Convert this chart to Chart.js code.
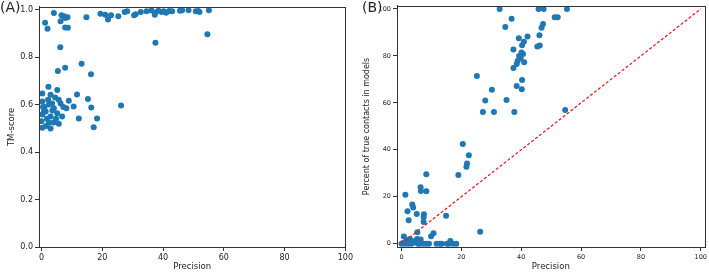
<!DOCTYPE html>
<html>
<head>
<meta charset="utf-8">
<script src="https://cdn.jsdelivr.net/npm/chart.js@4.4.1/dist/chart.umd.min.js"></script>
<style>
  html, body { margin: 0; padding: 0; background: #fff; }
  #wrap { position: relative; width: 709px; height: 275px; }
  .box { position: absolute; top: 0; height: 275px; }
  .lbl { position: absolute; top: -1px; font-family: "DejaVu Sans", sans-serif; font-size: 14px; color: #222; }
</style>
</head>
<body>
<div id="wrap">
  <div class="box" style="left:0;width:355px"><canvas id="chartA"></canvas></div>
  <div class="box" style="left:355px;width:354px"><canvas id="chartB"></canvas></div>
  <div class="lbl" style="left:0">(A)</div>
  <div class="lbl" style="left:362px">(B)</div>
</div>
<script>
// (A) precision vs TM-score
const precisionA = [1.2, 2.0, 4.1, 6.6, 7.4, 7.9, 8.6, 6.3, 7.8, 8.7, 14.8, 19.4, 21.0, 21.9, 22.9, 25.3, 27.4, 28.2, 30.5, 31.0,
  32.7, 34.6, 36.2, 37.3, 37.4, 38.5, 39.5, 40.2, 41.0, 42.0, 43.0, 45.6, 46.3, 48.4, 50.8, 51.6, 52.0, 55.1, 37.5, 54.6,
  6.2, 13.2, 5.4, 7.8, 16.3,
  2.3, 5.2, 0.3, 3.0, 11.7, 15.3, 5.7, 9.0, 26.2, 16.4, 10.6, 0.3, 2.5, 4.1, 1.4, 5.2, 0.3, 3.0, 12.3, 18.3,
  0.0, 2.5, 5.7, 17.2, 0.3, 3.0, 1.0, 4.5, 3.6, 6.3, 7.2, 1.8, 4.0, 0.8, 2.2, 1.5, 6.8, 3.5, 4.8, 0.5, 8.2];
const tmScore = [0.945, 0.92, 0.986, 0.976, 0.972, 0.965, 0.968, 0.951, 0.925, 0.924, 0.968, 0.983, 0.979, 0.958, 0.976, 0.972, 0.99, 0.993, 0.976, 0.981,
  0.99, 0.993, 0.996, 0.979, 0.988, 0.995, 0.99, 0.993, 0.987, 0.994, 0.993, 0.995, 0.997, 0.997, 0.993, 0.994, 0.99, 0.997, 0.861, 0.896,
  0.842, 0.772, 0.741, 0.755, 0.728,
  0.675, 0.661, 0.647, 0.641, 0.643, 0.624, 0.62, 0.616, 0.596, 0.588, 0.592, 0.613, 0.6, 0.585, 0.571, 0.564, 0.558, 0.55, 0.541, 0.541,
  0.53, 0.523, 0.519, 0.505, 0.502, 0.499, 0.59, 0.63, 0.575, 0.605, 0.59, 0.54, 0.525, 0.57, 0.62, 0.51, 0.55, 0.605, 0.54, 0.59, 0.585];

// (B) precision vs percent of true contacts in models
const precisionB = [32.8, 45.8, 47.5, 55.3, 51.2, 52.2, 36.8, 47.3, 46.8, 34.7, 46.1, 42.1, 39.2, 40.9, 40.3, 45.4, 46.2, 37.4, 40.1, 40.6,
  39.3, 39.8, 38.8, 41.0, 38.5, 37.4, 25.2, 40.3, 38.5, 40.2, 30.2, 28.0, 35.1, 27.2, 30.9, 37.7, 54.7,
  20.5, 22.5, 21.9, 21.7, 19.0, 8.3, 6.4, 6.5, 8.3, 1.3, 3.6, 3.9, 2.0, 5.1, 7.5, 7.4, 7.4, 14.9, 2.4, 10.7, 9.9, 5.3, 26.3, 0.8,
  0, 1.1, 2.2, 3.3, 5.5, 6.1, 7.2, 8.3, 9.2, 11.7, 12.8, 13.5, 15.2, 15.9, 16.3, 17.2, 18.3, 1.7, 2.8, 5.2, 6.4, 4.2, 0.5, 3.8];
const percentTrue = [100, 100, 100, 100, 96.5, 96.5, 95.8, 93.6, 92, 92.3, 88.8, 88.3, 87.5, 86, 84.5, 84, 84.4, 82.7, 81.5, 80.8,
  80, 79, 77.8, 77.3, 76.6, 74.9, 71.4, 69.7, 67.2, 65.8, 65.6, 61, 61.2, 56.1, 56.1, 56.1, 57,
  42.5, 37.7, 34.2, 32.8, 29.3, 29.6, 24.1, 22.5, 22.3, 20.9, 16.7, 15.4, 13.8, 12.7, 12.6, 11.3, 9.2, 11.9, 10.0, 4.5, 3.2, 4.9, 5.1, 3.1,
  0, 0, 0, 0, 0, 0, 0, 0, 0, 0, 0, 0, 0, 0, 1.2, 0, 0, 1.5, 2, 2, 1.8, 0.5, 0.3, 1];

const diagonal = [0, 100];

const xTicks = [0, 20, 40, 60, 80, 100];
const yTicksA = [0, 0.2, 0.4, 0.6, 0.8, 1.0];
const yTicksB = [0, 20, 40, 60, 80, 100];

const blue = '#1f77b4';
const axisColor = '#333';

// matplotlib style box around the plot area
const frame = {
  id: 'frame',
  afterDraw(chart) {
    const a = chart.chartArea, c = chart.ctx;
    c.save();
    c.strokeStyle = axisColor;
    c.lineWidth = 1;
    c.strokeRect(Math.round(a.left) + 0.5, Math.round(a.top) + 0.5, Math.round(a.right - a.left), Math.round(a.bottom - a.top));
    c.restore();
  }
};

function pts(xs, ys) { return xs.map((x, i) => ({ x: x, y: ys[i] })); }

function axis(min, max, ticks, tickFont, title, titleFont, size, fmt, pos, titlePad) {
  return {
    type: 'linear',
    position: pos,
    min: min,
    max: max,
    afterBuildTicks: s => { s.ticks = ticks.map(v => ({ value: v })); },
    afterFit: s => { if (pos === 'left') s.width = size; else s.height = size; },
    grid: { drawOnChartArea: false, drawTicks: true, tickLength: 4, color: axisColor },
    border: { color: axisColor },
    ticks: {
      color: '#222',
      padding: 2,
      font: { family: 'DejaVu Sans', size: tickFont },
      callback: fmt,
      maxRotation: 0
    },
    title: {
      display: true,
      text: title,
      color: '#222',
      font: { family: 'DejaVu Sans', size: titleFont },
      padding: { top: titlePad, bottom: 3 }
    }
  };
}

Chart.defaults.animation = false;

new Chart(document.getElementById('chartA'), {
  type: 'scatter',
  data: {
    datasets: [{
      data: pts(precisionA, tmScore),
      backgroundColor: blue,
      borderWidth: 0,
      pointRadius: 3
    }]
  },
  options: {
    responsive: true,
    maintainAspectRatio: false,
    layout: { padding: { left: 0, right: 8, top: 4, bottom: 0 } },
    plugins: { legend: { display: false }, tooltip: { enabled: false } },
    scales: {
      x: axis(-0.8, 100, xTicks, 8, 'Precision', 8.5, 28, v => String(v), 'bottom', 3),
      y: axis(0, 1.012, yTicksA, 8, 'TM-score', 8.5, 39, v => v.toFixed(1), 'left', 7)
    }
  },
  plugins: [frame]
});

new Chart(document.getElementById('chartB'), {
  data: {
    datasets: [{
      type: 'scatter',
      data: pts(precisionB, percentTrue),
      backgroundColor: blue,
      borderWidth: 0,
      pointRadius: 3,
      order: 2
    }, {
      type: 'line',
      data: pts(diagonal, diagonal),
      borderColor: '#e8141c',
      borderWidth: 1.2,
      borderDash: [3, 2],
      pointRadius: 0,
      order: 1
    }]
  },
  options: {
    responsive: true,
    maintainAspectRatio: false,
    layout: { padding: { left: 0, right: 3, top: 2, bottom: 0 } },
    plugins: { legend: { display: false }, tooltip: { enabled: false } },
    scales: {
      x: axis(-1.5, 101.3, xTicks, 6.5, 'Precision', 8.5, 28, v => String(v), 'bottom', 3),
      y: axis(-1.4, 101.3, yTicksB, 6.5, 'Percent of true contacts in models', 8, 42, v => String(v), 'left', 7)
    }
  },
  plugins: [frame]
});
</script>
</body>
</html>
